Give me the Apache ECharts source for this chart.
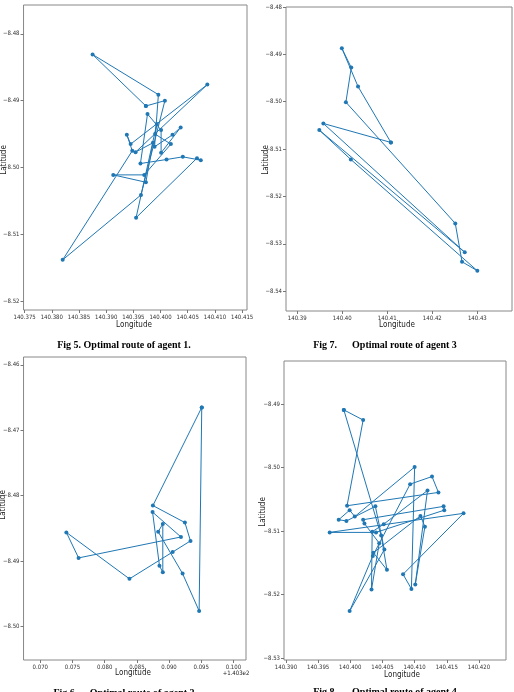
<!DOCTYPE html>
<html>
<head>
<meta charset="utf-8">
<script src="https://cdn.jsdelivr.net/npm/echarts@6/dist/echarts.min.js"></script>
<style>
html,body{margin:0;padding:0;background:#fff}
#main{width:514px;height:692px}
</style>
</head>
<body>
<div id="main"></div>
<script>
// agent 1 route (Fig 5), visiting order, closed tour
const agent1Lon = [140.3973,140.3875,140.3996,140.3989,140.4022,140.4037,140.4001,140.4001,140.3976,140.3963,
                   140.4011,140.4041,140.4074,140.4067,140.3955,140.3993,140.3990,140.4019,140.3970,140.3913,
                   140.3973,140.3986,140.3954,140.4086,140.3945,140.3938,140.3948,140.3820,140.3964,140.4008,140.3973];
const agent1Lat = [-8.4908,-8.4831,-8.4891,-8.4969,-8.4951,-8.4940,-8.4978,-8.4944,-8.4920,-8.4994,
                   -8.4988,-8.4984,-8.4989,-8.4986,-8.5075,-8.4935,-8.4950,-8.4965,-8.5011,-8.5011,
                   -8.5022,-8.4963,-8.4977,-8.4876,-8.4965,-8.4951,-8.4975,-8.5138,-8.5041,-8.4900,-8.4908];

// agent 3 route (Fig 7)
const agent3Lon = [140.4108,140.4035,140.3999,140.4020,140.4008,140.4251,140.4266,140.4300,140.4019,140.3949,140.4272,140.3958,140.4108];
const agent3Lat = [-8.5086,-8.4968,-8.4887,-8.4928,-8.5001,-8.5257,-8.5338,-8.5357,-8.5122,-8.5060,-8.5318,-8.5046,-8.5086];

// agent 2 route (Fig 6)
const agent2Lon = [140.39508,140.38749,140.39246,140.39333,140.39056,140.38385,140.37405,140.37595,140.39185,140.38744,
                   140.38851,140.38903,140.38903,140.38831,140.39210,140.39467,140.39508];
const agent2Lat = [-8.4665,-8.4815,-8.4841,-8.4869,-8.4886,-8.4927,-8.4856,-8.4895,-8.4863,-8.4825,
                   -8.4907,-8.4917,-8.4843,-8.4855,-8.4919,-8.4976,-8.4665];

// agent 4 route (Fig 8)
const agent4Lon = [140.3990,140.4020,140.3995,140.4137,140.4127,140.4093,140.4035,140.3999,140.4053,140.4039,
                   140.3994,140.3982,140.3999,140.4007,140.4100,140.4095,140.4082,140.4176,140.3968,140.4040,
                   140.4146,140.4145,140.4020,140.4022,140.4045,140.4033,140.4034,140.4052,140.4120,140.4101,
                   140.4116,140.4109,140.4036,140.4057,140.4048,140.3990];
const agent4Lat = [-8.4909,-8.4925,-8.5060,-8.5039,-8.5014,-8.5026,-8.5139,-8.5226,-8.5129,-8.5061,
                   -8.5084,-8.5082,-8.5067,-8.5077,-8.4999,-8.5191,-8.5168,-8.5072,-8.5102,-8.5102,
                   -8.5067,-8.5061,-8.5082,-8.5088,-8.5119,-8.5192,-8.5101,-8.5089,-8.5036,-8.5184,
                   -8.5093,-8.5076,-8.5134,-8.5161,-8.5107,-8.4909];

// tick values
const x1Ticks = [140.375,140.380,140.385,140.390,140.395,140.400,140.405,140.410,140.415];
const y1Ticks = [-8.48,-8.49,-8.50,-8.51,-8.52];
const x2Ticks = [140.39,140.40,140.41,140.42,140.43];
const y2Ticks = [-8.48,-8.49,-8.50,-8.51,-8.52,-8.53,-8.54];
const x3Ticks = [140.370,140.375,140.380,140.385,140.390,140.395,140.400];
const y3Ticks = [-8.46,-8.47,-8.48,-8.49,-8.50];
const x4Ticks = [140.390,140.395,140.400,140.405,140.410,140.415,140.420];
const y4Ticks = [-8.49,-8.50,-8.51,-8.52,-8.53];

const blue = '#1f77b4';
const labelFont = '"Liberation Sans Narrow","DejaVu Sans Condensed",sans-serif';

let zip = (a, b) => a.map((v, i) => [v, b[i]]);
let minus = (v, d) => '\u2212' + Math.abs(v).toFixed(d);

let xAxis = (idx, min, max, ticks, fmt) => ({
    type: 'value', gridIndex: idx, min: min, max: max,
    splitLine: {show: false},
    axisLine: {show: false},
    axisTick: {show: true, customValues: ticks, length: 3, lineStyle: {color: '#777'}},
    axisLabel: {customValues: ticks, formatter: fmt, fontSize: 6, color: '#333', margin: 4, fontFamily: labelFont}
});
let yAxis = (idx, min, max, ticks, d) => ({
    type: 'value', gridIndex: idx, min: min, max: max,
    splitLine: {show: false},
    axisLine: {show: false},
    axisTick: {show: true, customValues: ticks, length: 3, lineStyle: {color: '#777'}},
    axisLabel: {customValues: ticks, formatter: v => minus(v, d), fontSize: 6, color: '#333', margin: 4, fontFamily: labelFont}
});
let route = (idx, lon, lat) => ({
    type: 'line', xAxisIndex: idx, yAxisIndex: idx,
    data: zip(lon, lat),
    symbol: 'circle', symbolSize: 4,
    lineStyle: {color: blue, width: 1},
    itemStyle: {color: blue},
    animation: false
});
let txt = (x, y, s, opt) => ({
    type: 'text', x: x, y: y, rotation: opt && opt.rot || 0,
    style: Object.assign({text: s, fill: '#222', fontSize: 8, fontFamily: labelFont, align: 'center', verticalAlign: 'middle'}, opt && opt.style)
});
const capStyle = {fontFamily: '"Liberation Serif","Times New Roman",serif', fontWeight: 'bold', fontSize: 10, fill: '#000'};

let chart = echarts.init(document.getElementById('main'));
chart.setOption({
    backgroundColor: '#fff',
    animation: false,
    grid: [
        {left: 23, top: 5, width: 224, height: 305, show: true, borderColor: '#888', borderWidth: 1},
        {left: 286, top: 7, width: 226, height: 304, show: true, borderColor: '#888', borderWidth: 1},
        {left: 21, top: 357, width: 225, height: 303, show: true, borderColor: '#888', borderWidth: 1},
        {left: 284, top: 361, width: 222, height: 299, show: true, borderColor: '#888', borderWidth: 1}
    ],
    xAxis: [
        xAxis(0, 140.3748, 140.4159, x1Ticks, v => v.toFixed(3)),
        xAxis(1, 140.3875, 140.4377, x2Ticks, v => v.toFixed(2)),
        xAxis(2, 140.3674, 140.40195, x3Ticks, v => (v - 140.3).toFixed(3)),
        xAxis(3, 140.3897, 140.4242, x4Ticks, v => v.toFixed(3))
    ],
    yAxis: [
        yAxis(0, -8.5213, -8.4757, y1Ticks, 2),
        yAxis(1, -8.5442, -8.48, y2Ticks, 2),
        yAxis(2, -8.5051, -8.4588, y3Ticks, 2),
        yAxis(3, -8.5303, -8.4832, y4Ticks, 2)
    ],
    series: [
        route(0, agent1Lon, agent1Lat),
        route(1, agent3Lon, agent3Lat),
        route(2, agent2Lon, agent2Lat),
        route(3, agent4Lon, agent4Lat)
    ],
    graphic: [
        txt(134, 325, 'Longitude'),
        txt(397, 325, 'Longitude'),
        txt(133, 673, 'Longitude'),
        txt(402, 675, 'Longitude'),
        txt(4, 160, 'Latitude', {rot: Math.PI / 2}),
        txt(266, 160, 'Latitude', {rot: Math.PI / 2}),
        txt(3, 505, 'Latitude', {rot: Math.PI / 2}),
        txt(263, 512, 'Latitude', {rot: Math.PI / 2}),
        txt(236, 673, '+1.403e2', {style: {fontSize: 6}}),
        txt(124, 345, 'Fig 5. Optimal route of agent 1.', {style: capStyle}),
        txt(385, 345, 'Fig 7.      Optimal route of agent 3', {style: capStyle}),
        txt(124, 693, 'Fig 6.     Optimal route of agent 2', {style: capStyle}),
        txt(385, 692, 'Fig 8.      Optimal route of agent 4', {style: capStyle})
    ]
});
</script>
</body>
</html>
